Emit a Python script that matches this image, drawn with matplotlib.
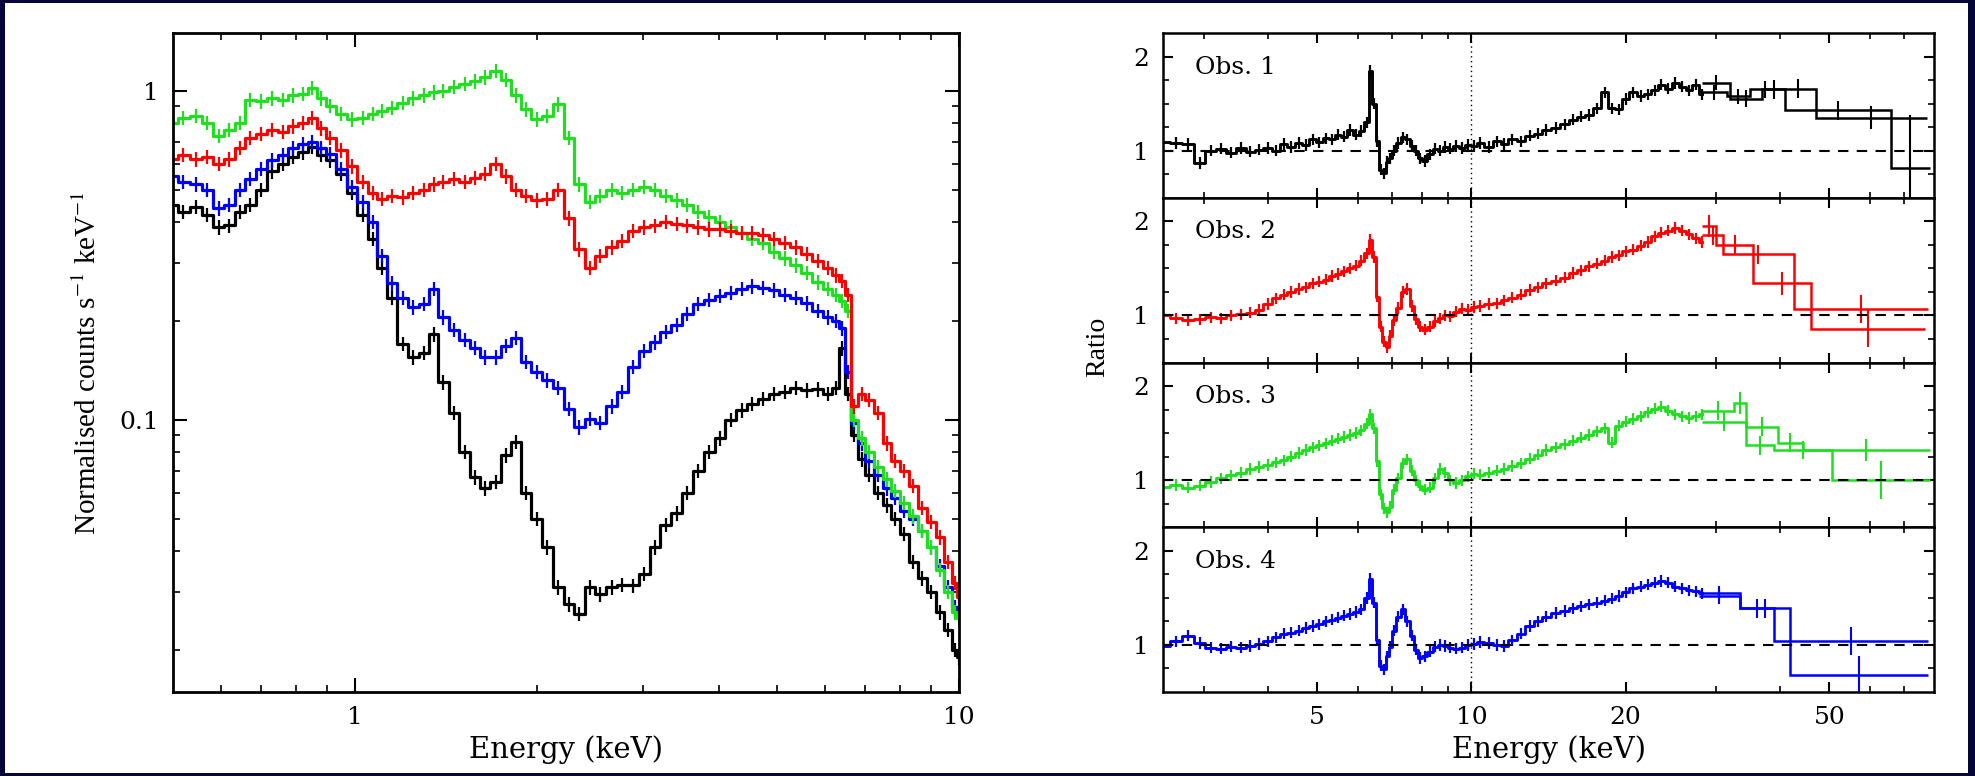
import numpy as np
import matplotlib
matplotlib.use("Agg")
import matplotlib.pyplot as plt
from matplotlib.ticker import FixedLocator, FixedFormatter, NullFormatter
from matplotlib.patches import Rectangle

# ---------------- data: left panel (normalised counts s^-1 keV^-1) ----------------
E_SOFT = [
    0.50, 0.52, 0.545, 0.57, 0.595, 0.62, 0.645, 0.67, 0.70, 0.73,
    0.76, 0.79, 0.82, 0.85, 0.88, 0.91, 0.95, 0.99, 1.03, 1.07,
    1.11, 1.15, 1.20, 1.25, 1.30, 1.35, 1.40, 1.46, 1.52, 1.58,
    1.64, 1.71, 1.78, 1.85, 1.92, 2.00, 2.08, 2.17, 2.26, 2.35,
    2.45, 2.55, 2.66, 2.77, 2.89, 3.01, 3.14, 3.27, 3.41, 3.55,
    3.70, 3.86, 4.02, 4.19, 4.37, 4.55, 4.74, 4.94, 5.15, 5.37,
    5.60, 5.84, 6.08, 6.25, 6.40, 6.55, 6.70, 6.90, 7.10, 7.35,
    7.60, 7.85, 8.10, 8.40, 8.70, 9.00, 9.30, 9.60, 9.85, 10.0]

SPEC_OBS1 = [
    0.45, 0.43, 0.445, 0.42, 0.385, 0.39, 0.43, 0.45, 0.50, 0.57,
    0.60, 0.63, 0.65, 0.675, 0.64, 0.615, 0.56, 0.49, 0.42, 0.355,
    0.29, 0.235, 0.17, 0.155, 0.16, 0.182, 0.13, 0.105, 0.080, 0.067,
    0.062, 0.065, 0.078, 0.086, 0.060, 0.050, 0.041, 0.031, 0.0275, 0.0258,
    0.031, 0.0295, 0.031, 0.0316, 0.0314, 0.034, 0.041, 0.048, 0.052, 0.060,
    0.070, 0.080, 0.088, 0.100, 0.107, 0.112, 0.116, 0.120, 0.122, 0.125,
    0.123, 0.124, 0.120, 0.125, 0.165, 0.120, 0.090, 0.076, 0.068, 0.060,
    0.055, 0.050, 0.045, 0.037, 0.033, 0.030, 0.026, 0.023, 0.020, 0.019]

SPEC_OBS4 = [
    0.55, 0.53, 0.52, 0.50, 0.44, 0.45, 0.50, 0.54, 0.58, 0.615,
    0.64, 0.67, 0.69, 0.70, 0.67, 0.645, 0.58, 0.51, 0.46, 0.40,
    0.315, 0.26, 0.235, 0.22, 0.225, 0.25, 0.205, 0.188, 0.175, 0.166,
    0.155, 0.155, 0.168, 0.178, 0.150, 0.140, 0.132, 0.125, 0.108, 0.095,
    0.101, 0.098, 0.110, 0.122, 0.145, 0.162, 0.172, 0.185, 0.195, 0.210,
    0.225, 0.232, 0.238, 0.243, 0.250, 0.255, 0.252, 0.248, 0.240, 0.235,
    0.226, 0.215, 0.205, 0.200, 0.190, 0.140, 0.098, 0.085, 0.075, 0.068,
    0.062, 0.058, 0.053, 0.050, 0.046, 0.041, 0.036, 0.031, 0.027, 0.026]

SPEC_OBS3 = [
    0.80, 0.83, 0.84, 0.80, 0.73, 0.76, 0.80, 0.94, 0.93, 0.95,
    0.94, 0.97, 0.98, 1.02, 0.95, 0.90, 0.85, 0.82, 0.83, 0.85,
    0.87, 0.89, 0.92, 0.95, 0.97, 0.99, 1.00, 1.03, 1.05, 1.07,
    1.10, 1.15, 1.08, 0.97, 0.88, 0.82, 0.84, 0.91, 0.72, 0.52,
    0.46, 0.48, 0.50, 0.49, 0.50, 0.51, 0.50, 0.48, 0.465, 0.45,
    0.43, 0.415, 0.40, 0.385, 0.37, 0.355, 0.345, 0.325, 0.31, 0.295,
    0.28, 0.262, 0.25, 0.24, 0.23, 0.215, 0.10, 0.088, 0.080, 0.072,
    0.066, 0.061, 0.056, 0.051, 0.046, 0.041, 0.035, 0.030, 0.026, 0.025]

SPEC_OBS2 = [
    0.62, 0.64, 0.62, 0.63, 0.60, 0.62, 0.67, 0.72, 0.74, 0.76,
    0.75, 0.78, 0.80, 0.83, 0.77, 0.72, 0.66, 0.59, 0.53, 0.49,
    0.47, 0.48, 0.475, 0.49, 0.50, 0.52, 0.53, 0.54, 0.53, 0.545,
    0.56, 0.60, 0.55, 0.50, 0.48, 0.465, 0.47, 0.50, 0.41, 0.33,
    0.29, 0.315, 0.335, 0.35, 0.375, 0.385, 0.39, 0.40, 0.395, 0.39,
    0.385, 0.38, 0.38, 0.375, 0.37, 0.37, 0.365, 0.355, 0.345, 0.335,
    0.32, 0.305, 0.29, 0.275, 0.265, 0.24, 0.11, 0.12, 0.115, 0.105,
    0.085, 0.075, 0.070, 0.063, 0.054, 0.049, 0.044, 0.037, 0.032, 0.029]

# ---------------- data: right panels (data/model ratio) ----------------
E_HARD = [
    2.50, 2.65, 2.80, 2.95, 3.10, 3.25, 3.40, 3.55, 3.70, 3.85,
    4.00, 4.15, 4.30, 4.45, 4.60, 4.75, 4.90, 5.05, 5.20, 5.35,
    5.50, 5.65, 5.80, 5.95, 6.10, 6.25, 6.35, 6.45, 6.55, 6.65,
    6.75, 6.85, 6.95, 7.05, 7.20, 7.35, 7.50, 7.65, 7.80, 7.95,
    8.10, 8.30, 8.50, 8.70, 8.90, 9.10, 9.35, 9.60, 9.85, 10.1,
    10.4, 10.8, 11.2, 11.6, 12.0, 12.5, 13.0, 13.5, 14.0, 14.6,
    15.2, 15.8, 16.4, 17.0, 17.6, 18.2, 18.8, 19.4, 20.0, 20.7,
    21.4, 22.1, 22.8, 23.5, 24.2, 25.0, 25.8, 26.6, 27.4, 28.2]

RATIO_OBS1 = [
    1.09, 1.08, 1.07, 0.87, 1.00, 1.02, 0.98, 1.03, 0.99, 1.01,
    1.03, 1.00, 1.07, 1.04, 1.08, 1.06, 1.12, 1.09, 1.13, 1.12,
    1.17, 1.15, 1.22, 1.17, 1.21, 1.30, 1.85, 1.50, 1.10, 0.80,
    0.76, 0.88, 0.92, 1.00, 1.08, 1.14, 1.12, 1.05, 1.00, 0.92,
    0.89, 0.96, 1.02, 1.00, 1.04, 1.02, 1.05, 1.03, 1.06, 1.05,
    1.08, 1.04, 1.10, 1.07, 1.12, 1.10, 1.16, 1.18, 1.22, 1.24,
    1.28, 1.33, 1.36, 1.38, 1.45, 1.62, 1.45, 1.44, 1.55, 1.62,
    1.58, 1.60, 1.64, 1.70, 1.66, 1.72, 1.68, 1.64, 1.70, 1.60]

RATIO_OBS2 = [
    1.00, 0.97, 0.95, 0.96, 0.98, 0.97, 1.00, 1.01, 1.03, 1.06,
    1.12, 1.18, 1.22, 1.25, 1.28, 1.30, 1.34, 1.36, 1.38, 1.42,
    1.44, 1.47, 1.50, 1.53, 1.58, 1.66, 1.80, 1.62, 1.20, 0.88,
    0.72, 0.66, 0.78, 0.95, 1.08, 1.25, 1.28, 1.10, 0.96, 0.88,
    0.85, 0.88, 0.94, 0.97, 1.00, 0.99, 1.04, 1.07, 1.06, 1.09,
    1.10, 1.12, 1.13, 1.16, 1.19, 1.22, 1.27, 1.30, 1.34, 1.37,
    1.40, 1.45, 1.48, 1.52, 1.55, 1.58, 1.62, 1.64, 1.68, 1.70,
    1.74, 1.78, 1.84, 1.88, 1.90, 1.93, 1.90, 1.86, 1.82, 1.78]

RATIO_OBS3 = [
    0.93, 0.95, 0.92, 0.94, 0.98, 1.02, 1.05, 1.08, 1.12, 1.14,
    1.16, 1.19, 1.21, 1.25, 1.29, 1.32, 1.35, 1.37, 1.39, 1.42,
    1.44, 1.46, 1.48, 1.50, 1.53, 1.60, 1.70, 1.55, 1.20, 0.85,
    0.70, 0.66, 0.72, 0.90, 1.02, 1.18, 1.22, 1.10, 1.00, 0.94,
    0.90, 0.92, 1.02, 1.12, 1.08, 1.00, 0.97, 1.00, 1.04, 1.07,
    1.06, 1.08, 1.10, 1.12, 1.15, 1.18, 1.23, 1.27, 1.32, 1.35,
    1.38, 1.42, 1.45, 1.48, 1.52, 1.55, 1.40, 1.58, 1.62, 1.65,
    1.68, 1.72, 1.76, 1.78, 1.74, 1.70, 1.68, 1.66, 1.68, 1.70]

RATIO_OBS4 = [
    0.99, 1.04, 1.10, 1.02, 0.97, 0.96, 0.98, 0.97, 0.99, 1.01,
    1.04, 1.08, 1.12, 1.13, 1.15, 1.18, 1.20, 1.22, 1.25, 1.27,
    1.29, 1.31, 1.33, 1.35, 1.38, 1.50, 1.70, 1.45, 1.05, 0.78,
    0.74, 0.88, 0.98, 1.15, 1.30, 1.38, 1.25, 1.10, 0.95, 0.86,
    0.88, 0.93, 0.98, 1.00, 0.99, 0.97, 0.96, 0.97, 1.00, 1.01,
    1.03, 1.02, 1.00, 0.99, 1.05, 1.12, 1.20, 1.25, 1.30, 1.34,
    1.36, 1.39, 1.41, 1.43, 1.45, 1.47, 1.49, 1.52, 1.56, 1.60,
    1.62, 1.64, 1.66, 1.68, 1.66, 1.62, 1.60, 1.58, 1.57, 1.55]

# coarse high-energy bins, two detector modules (A, B) per observation
BIN_EDGES_A = [[28.2, 31.5, 35.0, 40.0, 47.0, 77.5],
               [28.2, 31.0, 42.6, 78.0],
               [28.2, 32.6, 34.4, 39.6, 44.3, 78.5],
               [27.8, 33.4, 39.0, 78.0]]
BIN_RATIO_A = [[1.62, 1.58, 1.65, 1.66, 1.35],
               [1.85, 1.65, 1.07],
               [1.74, 1.82, 1.57, 1.40, 1.32],
               [1.55, 1.39, 1.04]]
BIN_ERR_A = [[0.08, 0.08, 0.09, 0.10, 0.12],
             [0.10, 0.10, 0.15],
             [0.10, 0.12, 0.10, 0.10, 0.12],
             [0.08, 0.10, 0.15]]
BIN_EDGES_B = [[28.2, 32.0, 37.0, 41.0, 66.0, 78.5],
               [28.2, 30.0, 35.5, 46.0, 77.0],
               [28.2, 34.4, 39.0, 50.5, 78.5],
               [27.8, 33.4, 41.9, 78.0]]
BIN_RATIO_B = [[1.72, 1.55, 1.65, 1.43, 0.82],
               [1.95, 1.75, 1.34, 0.86],
               [1.62, 1.37, 1.32, 1.00],
               [1.52, 1.39, 0.68]]
BIN_ERR_B = [[0.08, 0.09, 0.10, 0.10, 0.56],
             [0.12, 0.10, 0.12, 0.20],
             [0.10, 0.10, 0.10, 0.20],
             [0.08, 0.10, 0.20]]

OBS_LABELS = ["Obs. 1", "Obs. 2", "Obs. 3", "Obs. 4"]
COLORS = ["#000000", "#ff0000", "#1ee01e", "#0000ff"]

# ---------------- figure ----------------
W, H = 1975, 776
NAVY = "#05053a"
plt.rcParams["font.family"] = ["DejaVu Serif"]
plt.rcParams["mathtext.fontset"] = "stix"

fig = plt.figure(figsize=(W / 100, H / 100), dpi=100, facecolor=NAVY)
fig.patches.append(Rectangle((5 / W, 3 / H), (1968 - 5) / W, (773 - 3) / H,
                             transform=fig.transFigure, facecolor="white",
                             edgecolor="none", zorder=-10))


def box(x0, y0, x1, y1):
    return [x0 / W, 1 - y1 / H, (x1 - x0) / W, (y1 - y0) / H]


def style_axes(ax, major_len, minor_len, lw):
    for s in ax.spines.values():
        s.set_linewidth(lw)
    ax.tick_params(which="both", direction="in", top=True, right=True,
                   labelsize=18, colors="black")
    ax.tick_params(which="major", length=major_len, width=1.5, pad=10)
    ax.tick_params(which="minor", length=minor_len, width=1.2)


def draw_data(ax, x, y, color, frac=None, err=None, lw=1.6):
    x = np.asarray(x)
    y = np.asarray(y)
    yerr = y * frac if frac is not None else err
    ax.step(x, y, where="mid", color=color, lw=lw, zorder=2)
    ax.errorbar(x, y, yerr=yerr, fmt="none", ecolor=color,
                elinewidth=1.6, capsize=0, zorder=2)


# ---- left: spectra ----
axL = fig.add_axes(box(173, 33, 959, 692))
axL.set_xscale("log")
axL.set_yscale("log")
for spec, col in [(SPEC_OBS1, COLORS[0]), (SPEC_OBS4, COLORS[3]),
                  (SPEC_OBS3, COLORS[2]), (SPEC_OBS2, COLORS[1])]:
    draw_data(axL, E_SOFT, spec, col, frac=0.05, lw=2.3)
axL.set_xlim(0.5, 10)
axL.set_ylim(0.0149, 1.5)
axL.xaxis.set_major_locator(FixedLocator([1, 10]))
axL.xaxis.set_major_formatter(FixedFormatter(["1", "10"]))
axL.xaxis.set_minor_locator(FixedLocator([0.6, 0.7, 0.8, 0.9, 2, 3, 4, 5, 6, 7, 8, 9]))
axL.xaxis.set_minor_formatter(NullFormatter())
axL.yaxis.set_major_locator(FixedLocator([0.1, 1]))
axL.yaxis.set_major_formatter(FixedFormatter(["0.1", "1"]))
axL.yaxis.set_minor_locator(FixedLocator([0.02, 0.03, 0.04, 0.05, 0.06, 0.07, 0.08, 0.09,
                                          0.2, 0.3, 0.4, 0.5, 0.6, 0.7, 0.8, 0.9]))
axL.yaxis.set_minor_formatter(NullFormatter())
style_axes(axL, 10, 5, 2.0)
axL.set_xlabel("Energy (keV)", fontsize=21)
axL.xaxis.label.set_va("center")
axL.xaxis.set_label_coords(0.5, -(750 - 692) / 659)
axL.set_ylabel("Normalised counts s$^{-1}$ keV$^{-1}$", fontsize=21,
               family=["Liberation Serif"])
axL.yaxis.label.set_va("center")
axL.yaxis.set_label_coords(-(173 - 88) / 786, 0.5)

# ---- right: ratios ----
RATIOS = [RATIO_OBS1, RATIO_OBS2, RATIO_OBS3, RATIO_OBS4]
ph = (692 - 33) / 4
axes_r = []
for i in range(4):
    ax = fig.add_axes(box(1163, 33 + i * ph, 1934, 33 + (i + 1) * ph))
    axes_r.append(ax)
    ax.set_xscale("log")
    col = COLORS[i]
    ax.axvline(10, ls=(0, (1, 2.5)), color="black", lw=1.0, zorder=1)
    draw_data(ax, E_HARD, RATIOS[i], col, err=0.06, lw=2.1)
    for edges, vals, errs in [(BIN_EDGES_A[i], BIN_RATIO_A[i], BIN_ERR_A[i]),
                              (BIN_EDGES_B[i], BIN_RATIO_B[i], BIN_ERR_B[i])]:
        ax.stairs(vals, edges, color=col, lw=1.8, baseline=None, zorder=2)
        e = np.asarray(edges)
        ctr = np.sqrt(e[:-1] * e[1:])
        ax.errorbar(ctr, vals, yerr=errs, fmt="none", ecolor=col,
                    elinewidth=1.5, capsize=0, zorder=2)
    ax.axhline(1, ls=(0, (5, 4)), color="black", lw=1.5, zorder=3)
    ax.set_xlim(2.5, 80)
    ax.set_ylim(0.5, 2.25)
    ax.xaxis.set_major_locator(FixedLocator([5, 10, 20, 50]))
    ax.xaxis.set_minor_locator(FixedLocator([3, 4, 6, 7, 8, 9, 30, 40, 60, 70]))
    ax.xaxis.set_minor_formatter(NullFormatter())
    if i == 3:
        ax.xaxis.set_major_formatter(FixedFormatter(["5", "10", "20", "50"]))
    else:
        ax.xaxis.set_major_formatter(NullFormatter())
    ax.yaxis.set_major_locator(FixedLocator([1, 2]))
    ax.yaxis.set_major_formatter(FixedFormatter(["1", "2"]))
    ax.yaxis.set_minor_locator(FixedLocator([0.75, 1.25, 1.5, 1.75]))
    ax.yaxis.set_minor_formatter(NullFormatter())
    style_axes(ax, 7.5, 4, 1.8)
    ax.text((1195 - 1163) / 771, 1 - 34 / ph, OBS_LABELS[i], transform=ax.transAxes,
            ha="left", va="center", fontsize=18)

axes_r[3].set_xlabel("Energy (keV)", fontsize=21)
axes_r[3].xaxis.label.set_va("center")
axes_r[3].xaxis.set_label_coords(0.5, -(750 - 692) / ph)
fig.text(1098 / W, 1 - 347 / H, "Ratio", rotation=90, ha="center", va="center",
         fontsize=20, family=["Liberation Serif"])

fig.savefig("out.png", dpi=100, facecolor=fig.get_facecolor())
